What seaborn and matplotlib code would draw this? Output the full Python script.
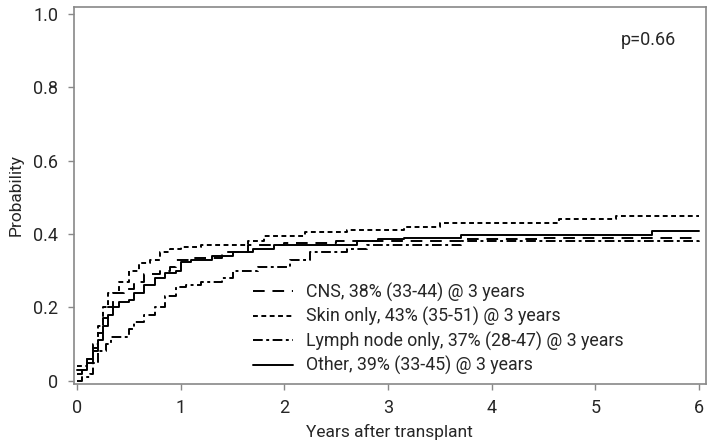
import matplotlib
matplotlib.use("Agg")
import matplotlib.pyplot as plt
import seaborn as sns
import pandas as pd

# cumulative incidence, step curves
cns_x = [0, 0.05, 0.1, 0.15, 0.2, 0.25, 0.3, 0.35, 0.45, 0.55, 0.65, 0.8, 0.9, 0.95, 1.1, 1.4, 1.65, 2.0, 2.5, 3.7, 4.5, 6.0]
cns_y = [0.02, 0.03, 0.06, 0.09, 0.13, 0.17, 0.2, 0.24, 0.25, 0.27, 0.29, 0.3, 0.31, 0.33, 0.335, 0.35, 0.37, 0.375, 0.38, 0.385, 0.39, 0.39]

skin_x = [0, 0.1, 0.15, 0.2, 0.25, 0.3, 0.4, 0.5, 0.6, 0.7, 0.8, 0.9, 1.0, 1.2, 1.65, 1.8, 2.2, 2.6, 3.15, 3.5, 4.65, 5.2, 6.0]
skin_y = [0.04, 0.06, 0.1, 0.15, 0.2, 0.24, 0.27, 0.3, 0.32, 0.33, 0.35, 0.36, 0.365, 0.37, 0.38, 0.395, 0.405, 0.41, 0.42, 0.43, 0.44, 0.45, 0.45]

lymph_x = [0, 0.05, 0.12, 0.15, 0.2, 0.28, 0.33, 0.45, 0.5, 0.55, 0.65, 0.75, 0.85, 0.95, 1.05, 1.2, 1.4, 1.5, 1.75, 2.05, 2.25, 2.6, 2.8, 3.7, 6.0]
lymph_y = [0.0, 0.01, 0.02, 0.05, 0.08, 0.1, 0.12, 0.12, 0.14, 0.16, 0.18, 0.2, 0.23, 0.255, 0.26, 0.27, 0.28, 0.3, 0.31, 0.33, 0.35, 0.36, 0.37, 0.38, 0.385]

other_x = [0, 0.1, 0.15, 0.2, 0.25, 0.3, 0.35, 0.4, 0.5, 0.55, 0.65, 0.75, 0.85, 0.95, 1.0, 1.1, 1.3, 1.5, 1.7, 1.9, 2.7, 2.9, 3.15, 3.7, 5.55, 6.0]
other_y = [0.03, 0.05, 0.08, 0.11, 0.15, 0.18, 0.2, 0.215, 0.22, 0.24, 0.26, 0.28, 0.295, 0.3, 0.325, 0.33, 0.34, 0.35, 0.36, 0.37, 0.38, 0.385, 0.39, 0.398, 0.407, 0.407]

labels = ["CNS, 38% (33-44) @ 3 years",
          "Skin only, 43% (35-51) @ 3 years",
          "Lymph node only, 37% (28-47) @ 3 years",
          "Other, 39% (33-45) @ 3 years"]

sns.set_style("white")
plt.rcParams["font.family"] = ["Roboto", "DejaVu Sans"]

fig, ax = plt.subplots(figsize=(7.14, 4.46), dpi=100)
fig.subplots_adjust(left=0.103, right=0.989, bottom=0.14, top=0.984)

series = [(cns_x, cns_y, (0, (6, 4))),
          (skin_x, skin_y, (0, (2.5, 1.8))),
          (lymph_x, lymph_y, (0, (5, 1.8, 1.5, 1.8))),
          (other_x, other_y, "-")]

for (xs, ys, ls), lab in zip(series, labels):
    df = pd.DataFrame({"t": xs, "p": ys})
    sns.lineplot(data=df, x="t", y="p", ax=ax, color="black", linewidth=1.4,
                 linestyle=ls, drawstyle="steps-post", estimator=None, sort=False,
                 label=lab)

ax.set_xlim(-0.034, 6.07)
ax.set_ylim(-0.0073, 1.0177)
ax.set_xticks([0, 1, 2, 3, 4, 5, 6])
ax.set_yticks([0, 0.2, 0.4, 0.6, 0.8, 1.0])
ax.set_yticklabels(["0", "0.2", "0.4", "0.6", "0.8", "1.0"])
ax.set_xlabel("Years after transplant", fontsize=12.5, labelpad=5)
ax.set_ylabel("Probability", fontsize=12.5, labelpad=7)
ax.tick_params(axis="both", labelsize=13, length=4, width=1, color="#888888",
               direction="out", left=True, bottom=True, pad=7)
for s in ax.spines.values():
    s.set_color("#888888")
    s.set_linewidth(1.2)

ax.text(5.51, 0.928, "p=0.66", fontsize=13, ha="center", va="center")

ax.legend(loc="upper left", bbox_to_anchor=(0.284, 0.268), frameon=False,
          fontsize=12.8, handlelength=2.25, handletextpad=0.7, labelspacing=0.3,
          borderpad=0, borderaxespad=0)

fig.savefig("out.png", dpi=100)
